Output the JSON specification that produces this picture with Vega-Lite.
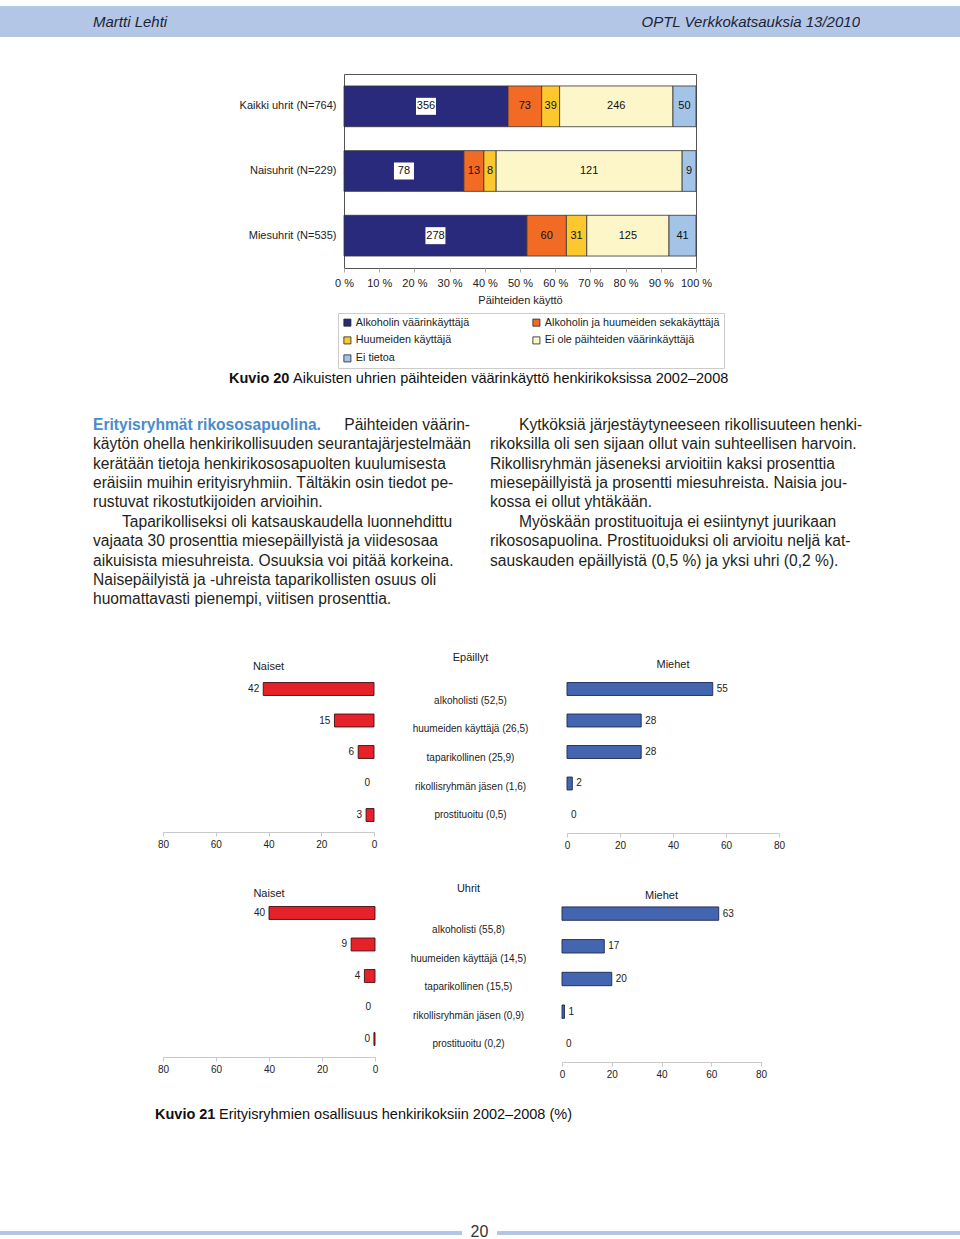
{
  "$schema": "https://vega.github.io/schema/vega-lite/v6.json",
  "padding": 0,
  "background": "white",
  "spacing": 0,
  "bounds": "flush",
  "config": {
    "view": {"stroke": null},
    "font": "Liberation Sans",
    "text": {"font": "Liberation Sans"},
    "axis": {"labelFont": "Liberation Sans", "titleFont": "Liberation Sans", "labelColor": "#222", "titleColor": "#222"},
    "legend": {"labelFont": "Liberation Sans", "labelColor": "#222"},
    "title": {"font": "Liberation Sans", "color": "#222", "fontWeight": "normal"}
  },
  "datasets": {
    "header": [
      {"role": "author", "t": "Martti Lehti"},
      {"role": "series", "t": "OPTL Verkkokatsauksia 13/2010"}
    ],
    "paihde": [
      {"group": "Kaikki uhrit (N=764)", "k": 1, "cat": "Alkoholin väärinkäyttäjä", "n": 356},
      {"group": "Kaikki uhrit (N=764)", "k": 2, "cat": "Alkoholin ja huumeiden sekakäyttäjä", "n": 73},
      {"group": "Kaikki uhrit (N=764)", "k": 3, "cat": "Huumeiden käyttäjä", "n": 39},
      {"group": "Kaikki uhrit (N=764)", "k": 4, "cat": "Ei ole päihteiden väärinkäyttäjä", "n": 246},
      {"group": "Kaikki uhrit (N=764)", "k": 5, "cat": "Ei tietoa", "n": 50},
      {"group": "Naisuhrit (N=229)", "k": 1, "cat": "Alkoholin väärinkäyttäjä", "n": 78},
      {"group": "Naisuhrit (N=229)", "k": 2, "cat": "Alkoholin ja huumeiden sekakäyttäjä", "n": 13},
      {"group": "Naisuhrit (N=229)", "k": 3, "cat": "Huumeiden käyttäjä", "n": 8},
      {"group": "Naisuhrit (N=229)", "k": 4, "cat": "Ei ole päihteiden väärinkäyttäjä", "n": 121},
      {"group": "Naisuhrit (N=229)", "k": 5, "cat": "Ei tietoa", "n": 9},
      {"group": "Miesuhrit (N=535)", "k": 1, "cat": "Alkoholin väärinkäyttäjä", "n": 278},
      {"group": "Miesuhrit (N=535)", "k": 2, "cat": "Alkoholin ja huumeiden sekakäyttäjä", "n": 60},
      {"group": "Miesuhrit (N=535)", "k": 3, "cat": "Huumeiden käyttäjä", "n": 31},
      {"group": "Miesuhrit (N=535)", "k": 4, "cat": "Ei ole päihteiden väärinkäyttäjä", "n": 125},
      {"group": "Miesuhrit (N=535)", "k": 5, "cat": "Ei tietoa", "n": 41}
    ],
    "captions": [
      {"fig": "20", "label": "Kuvio 20", "text": "Aikuisten uhrien päihteiden väärinkäyttö henkirikoksissa 2002–2008"},
      {"fig": "21", "label": "Kuvio 21", "text": "Erityisryhmien osallisuus henkirikoksiin 2002–2008 (%)"}
    ],
    "paras": [
      {"col": "vasen", "line": 1, "alku": false, "lead": "Erityisryhmät rikososapuolina.", "text": "Päihteiden väärin-"},
      {"col": "vasen", "line": 2, "alku": false, "text": "käytön ohella henkirikollisuuden seurantajärjestelmään"},
      {"col": "vasen", "line": 3, "alku": false, "text": "kerätään tietoja henkirikososapuolten kuulumisesta"},
      {"col": "vasen", "line": 4, "alku": false, "text": "eräisiin muihin erityisryhmiin. Tältäkin osin tiedot pe-"},
      {"col": "vasen", "line": 5, "alku": false, "text": "rustuvat rikostutkijoiden arvioihin."},
      {"col": "vasen", "line": 6, "alku": true, "text": "Taparikolliseksi oli katsauskaudella luonnehdittu"},
      {"col": "vasen", "line": 7, "alku": false, "text": "vajaata 30 prosenttia miesepäillyistä ja viidesosaa"},
      {"col": "vasen", "line": 8, "alku": false, "text": "aikuisista miesuhreista. Osuuksia voi pitää korkeina."},
      {"col": "vasen", "line": 9, "alku": false, "text": "Naisepäilyistä ja -uhreista taparikollisten osuus oli"},
      {"col": "vasen", "line": 10, "alku": false, "text": "huomattavasti pienempi, viitisen prosenttia."},
      {"col": "oikea", "line": 1, "alku": true, "text": "Kytköksiä järjestäytyneeseen rikollisuuteen henki-"},
      {"col": "oikea", "line": 2, "alku": false, "text": "rikoksilla oli sen sijaan ollut vain suhteellisen harvoin."},
      {"col": "oikea", "line": 3, "alku": false, "text": "Rikollisryhmän jäseneksi arvioitiin kaksi prosenttia"},
      {"col": "oikea", "line": 4, "alku": false, "text": "miesepäillyistä ja prosentti miesuhreista. Naisia jou-"},
      {"col": "oikea", "line": 5, "alku": false, "text": "kossa ei ollut yhtäkään."},
      {"col": "oikea", "line": 6, "alku": true, "text": "Myöskään prostituoituja ei esiintynyt juurikaan"},
      {"col": "oikea", "line": 7, "alku": false, "text": "rikososapuolina. Prostituoiduksi oli arvioitu neljä kat-"},
      {"col": "oikea", "line": 8, "alku": false, "text": "sauskauden epäillyistä (0,5 %) ja yksi uhri (0,2 %)."}
    ],
    "erityis": [
      {"ryhma": "Epäillyt", "sukupuoli": "Naiset", "k": 1, "luokka": "alkoholisti", "v": 42},
      {"ryhma": "Epäillyt", "sukupuoli": "Naiset", "k": 2, "luokka": "huumeiden käyttäjä", "v": 15},
      {"ryhma": "Epäillyt", "sukupuoli": "Naiset", "k": 3, "luokka": "taparikollinen", "v": 6},
      {"ryhma": "Epäillyt", "sukupuoli": "Naiset", "k": 4, "luokka": "rikollisryhmän jäsen", "v": 0},
      {"ryhma": "Epäillyt", "sukupuoli": "Naiset", "k": 5, "luokka": "prostituoitu", "v": 3},
      {"ryhma": "Epäillyt", "sukupuoli": "Miehet", "k": 1, "luokka": "alkoholisti", "v": 55},
      {"ryhma": "Epäillyt", "sukupuoli": "Miehet", "k": 2, "luokka": "huumeiden käyttäjä", "v": 28},
      {"ryhma": "Epäillyt", "sukupuoli": "Miehet", "k": 3, "luokka": "taparikollinen", "v": 28},
      {"ryhma": "Epäillyt", "sukupuoli": "Miehet", "k": 4, "luokka": "rikollisryhmän jäsen", "v": 2},
      {"ryhma": "Epäillyt", "sukupuoli": "Miehet", "k": 5, "luokka": "prostituoitu", "v": 0},
      {"ryhma": "Uhrit", "sukupuoli": "Naiset", "k": 1, "luokka": "alkoholisti", "v": 40},
      {"ryhma": "Uhrit", "sukupuoli": "Naiset", "k": 2, "luokka": "huumeiden käyttäjä", "v": 9},
      {"ryhma": "Uhrit", "sukupuoli": "Naiset", "k": 3, "luokka": "taparikollinen", "v": 4},
      {"ryhma": "Uhrit", "sukupuoli": "Naiset", "k": 4, "luokka": "rikollisryhmän jäsen", "v": 0},
      {"ryhma": "Uhrit", "sukupuoli": "Naiset", "k": 5, "luokka": "prostituoitu", "v": 0.4},
      {"ryhma": "Uhrit", "sukupuoli": "Miehet", "k": 1, "luokka": "alkoholisti", "v": 63},
      {"ryhma": "Uhrit", "sukupuoli": "Miehet", "k": 2, "luokka": "huumeiden käyttäjä", "v": 17},
      {"ryhma": "Uhrit", "sukupuoli": "Miehet", "k": 3, "luokka": "taparikollinen", "v": 20},
      {"ryhma": "Uhrit", "sukupuoli": "Miehet", "k": 4, "luokka": "rikollisryhmän jäsen", "v": 1},
      {"ryhma": "Uhrit", "sukupuoli": "Miehet", "k": 5, "luokka": "prostituoitu", "v": 0}
    ],
    "erityis_cats": [
      {"ryhma": "Epäillyt", "k": 1, "label": "alkoholisti (52,5)"},
      {"ryhma": "Epäillyt", "k": 2, "label": "huumeiden käyttäjä (26,5)"},
      {"ryhma": "Epäillyt", "k": 3, "label": "taparikollinen (25,9)"},
      {"ryhma": "Epäillyt", "k": 4, "label": "rikollisryhmän jäsen (1,6)"},
      {"ryhma": "Epäillyt", "k": 5, "label": "prostituoitu (0,5)"},
      {"ryhma": "Uhrit", "k": 1, "label": "alkoholisti (55,8)"},
      {"ryhma": "Uhrit", "k": 2, "label": "huumeiden käyttäjä (14,5)"},
      {"ryhma": "Uhrit", "k": 3, "label": "taparikollinen (15,5)"},
      {"ryhma": "Uhrit", "k": 4, "label": "rikollisryhmän jäsen (0,9)"},
      {"ryhma": "Uhrit", "k": 5, "label": "prostituoitu (0,2)"}
    ],
    "footer": [{"page": "20"}]
  },
  "vconcat": [
    {"width": 960, "height": 6, "data": {"values": []}, "mark": "point"},
    {
      "hconcat": [
        {"width": 93, "height": 31, "view": {"fill": "#b3c6e6"}, "data": {"values": []}, "mark": "point"},
        {
          "width": 767, "height": 31, "view": {"fill": "#b3c6e6"},
          "data": {"name": "header"},
          "layer": [
            {"transform": [{"filter": "datum.role == 'author'"}],
             "mark": {"type": "text", "align": "left", "fontSize": 15, "fontStyle": "italic", "color": "#1c2438"},
             "encoding": {"x": {"datum": 0, "type": "quantitative", "scale": {"domain": [0, 1], "nice": false}, "axis": null}, "text": {"field": "t"}}},
            {"transform": [{"filter": "datum.role == 'series'"}],
             "mark": {"type": "text", "align": "right", "fontSize": 15, "fontStyle": "italic", "color": "#1c2438"},
             "encoding": {"x": {"datum": 1, "type": "quantitative", "scale": {"domain": [0, 1], "nice": false}, "axis": null}, "text": {"field": "t"}}}
          ]
        },
        {"width": 100, "height": 31, "view": {"fill": "#b3c6e6"}, "data": {"values": []}, "mark": "point"}
      ],
      "spacing": 0, "bounds": "flush"
    },
    {"width": 960, "height": 68, "data": {"values": []}, "mark": "point"},
    {
      "hconcat": [
        {"width": 344, "height": 194, "data": {"values": []}, "mark": "point"},
        {
          "width": 352, "height": 194,
          "view": {"stroke": "#555", "strokeWidth": 1},
          "data": {"name": "paihde"},
          "transform": [{"stack": "n", "groupby": ["group"], "sort": [{"field": "k"}], "offset": "normalize", "as": ["s0", "s1"]}],
          "encoding": {
            "y": {"field": "group", "type": "nominal", "sort": ["Kaikki uhrit (N=764)", "Naisuhrit (N=229)", "Miesuhrit (N=535)"],
                  "scale": {"paddingInner": 0.37, "paddingOuter": 0.185},
                  "axis": {"title": null, "ticks": false, "domain": false, "labelFontSize": 11, "labelPadding": 8}}
          },
          "layer": [
            {
              "mark": {"type": "bar", "stroke": "#333", "strokeWidth": 0.8},
              "encoding": {
                "x": {"field": "s0", "type": "quantitative", "scale": {"domain": [0, 1], "nice": false},
                      "axis": {"title": "Päihteiden käyttö", "titleFontSize": 11, "titleFontWeight": "normal", "titlePadding": 6, "values": [0, 0.1, 0.2, 0.3, 0.4, 0.5, 0.6, 0.7, 0.8, 0.9, 1], "labelExpr": "round(datum.value*100) + ' %'", "labelFontSize": 11, "labelFlush": false, "labelOverlap": false, "labelBound": false, "grid": false, "domain": false, "tickColor": "#aaa", "tickSize": 4, "labelPadding": 5}},
                "x2": {"field": "s1"},
                "color": {"field": "cat", "type": "nominal",
                          "scale": {"domain": ["Alkoholin väärinkäyttäjä", "Huumeiden käyttäjä", "Ei tietoa", "Alkoholin ja huumeiden sekakäyttäjä", "Ei ole päihteiden väärinkäyttäjä"],
                                    "range": ["#2a2a7c", "#fdc82e", "#a3c4e6", "#f26b25", "#fdf6c9"]},
                          "legend": {"title": null, "orient": "none", "legendX": 338, "legendY": 313, "columns": 2, "gridAlign": "all", "columnPadding": 0, "rowPadding": 6, "symbolType": "square", "symbolSize": 50, "symbolStrokeColor": "#222", "symbolStrokeWidth": 0.8, "labelFontSize": 10.8, "labelOffset": 3, "strokeColor": "#ccc", "padding": 4, "labelLimit": 300, "direction": "vertical"}}
              }
            },
            {
              "transform": [
                {"fold": ["s0", "s1"], "as": ["edge", "pos"]},
                {"aggregate": [{"op": "mean", "field": "pos", "as": "mid"}], "groupby": ["group", "cat", "k", "n"]}
              ],
              "layer": [
                {"transform": [{"filter": "datum.k == 1"}],
                 "mark": {"type": "point", "shape": "M-1,-0.85H1V0.85H-1Z", "filled": true, "color": "white", "size": 400, "opacity": 1, "strokeWidth": 0},
                 "encoding": {"x": {"field": "mid", "type": "quantitative",
                   "axis": {"title": "Päihteiden käyttö", "titleFontSize": 11, "titleFontWeight": "normal", "titlePadding": 6, "values": [0, 0.1, 0.2, 0.3, 0.4, 0.5, 0.6, 0.7, 0.8, 0.9, 1], "labelExpr": "round(datum.value*100) + ' %'", "labelFontSize": 11, "labelFlush": false, "labelOverlap": false, "labelBound": false, "grid": false, "domain": false, "tickColor": "#aaa", "tickSize": 4, "labelPadding": 5}}}},
                {"mark": {"type": "text", "fontSize": 11, "color": "#111"},
                 "encoding": {"x": {"field": "mid", "type": "quantitative",
                   "axis": {"title": "Päihteiden käyttö", "titleFontSize": 11, "titleFontWeight": "normal", "titlePadding": 6, "values": [0, 0.1, 0.2, 0.3, 0.4, 0.5, 0.6, 0.7, 0.8, 0.9, 1], "labelExpr": "round(datum.value*100) + ' %'", "labelFontSize": 11, "labelFlush": false, "labelOverlap": false, "labelBound": false, "grid": false, "domain": false, "tickColor": "#aaa", "tickSize": 4, "labelPadding": 5}},
                   "text": {"field": "n"}}}
              ]
            }
          ]
        }
      ],
      "spacing": 0, "bounds": "flush"
    },
    {"width": 960, "height": 296, "data": {"values": []}, "mark": "point"},
    {
      "hconcat": [
        {"width": 229, "height": 18, "data": {"values": []}, "mark": "point"},
        {
          "width": 520, "height": 18,
          "data": {"name": "captions"},
          "transform": [{"filter": "datum.fig == '20'"}],
          "encoding": {"x": {"datum": 0, "type": "quantitative", "scale": {"domain": [0, 1], "nice": false}, "axis": null}},
          "layer": [
            {"mark": {"type": "text", "align": "left", "fontSize": 14.5, "fontWeight": "bold", "color": "#111"}, "encoding": {"text": {"field": "label"}}},
            {"mark": {"type": "text", "align": "left", "fontSize": 14.5, "dx": 64, "color": "#111"}, "encoding": {"text": {"field": "text"}}}
          ]
        }
      ],
      "spacing": 0, "bounds": "flush"
    },
    {"width": 960, "height": 45, "data": {"values": []}, "mark": "point"},
    {
      "hconcat": [
        {"width": 93, "height": 194, "data": {"values": []}, "mark": "point"},
        {
          "width": 377, "height": 194,
          "data": {"name": "paras"},
          "transform": [{"filter": "datum.col == 'vasen'"}],
          "encoding": {
            "x": {"datum": 0, "type": "quantitative", "scale": {"domain": [0, 1], "nice": false}, "axis": null},
            "y": {"field": "line", "type": "quantitative", "scale": {"domain": [0.5, 10.5], "reverse": true, "nice": false, "zero": false}, "axis": null}
          },
          "layer": [
            {"transform": [{"filter": "datum.line > 1 && !datum.alku"}], "mark": {"type": "text", "align": "left", "fontSize": 15.6, "color": "#231f20"}, "encoding": {"text": {"field": "text"}}},
            {"transform": [{"filter": "datum.alku"}], "mark": {"type": "text", "align": "left", "dx": 29, "fontSize": 15.6, "color": "#231f20"}, "encoding": {"text": {"field": "text"}}},
            {"transform": [{"filter": "datum.line == 1"}], "mark": {"type": "text", "align": "left", "fontSize": 15.6, "fontWeight": "bold", "color": "#4a8ccb"}, "encoding": {"text": {"field": "lead"}}},
            {"transform": [{"filter": "datum.line == 1"}], "mark": {"type": "text", "align": "right", "fontSize": 15.6, "color": "#231f20"}, "encoding": {"x": {"datum": 1, "type": "quantitative"}, "text": {"field": "text"}}}
          ]
        },
        {"width": 20, "height": 194, "data": {"values": []}, "mark": "point"},
        {
          "width": 377, "height": 194,
          "data": {"name": "paras"},
          "transform": [{"filter": "datum.col == 'oikea'"}],
          "encoding": {
            "x": {"datum": 0, "type": "quantitative", "scale": {"domain": [0, 1], "nice": false}, "axis": null},
            "y": {"field": "line", "type": "quantitative", "scale": {"domain": [0.5, 10.5], "reverse": true, "nice": false, "zero": false}, "axis": null},
            "text": {"field": "text"}
          },
          "layer": [
            {"transform": [{"filter": "!datum.alku"}], "mark": {"type": "text", "align": "left", "fontSize": 15.6, "color": "#231f20"}},
            {"transform": [{"filter": "datum.alku"}], "mark": {"type": "text", "align": "left", "dx": 29, "fontSize": 15.6, "color": "#231f20"}}
          ]
        }
      ],
      "spacing": 0, "bounds": "flush"
    },
    {"width": 960, "height": 258, "data": {"values": []}, "mark": "point"},
    {
      "hconcat": [
        {"width": 163, "height": 158, "data": {"values": []}, "mark": "point"},
        {
          "width": 211, "height": 158,
          "title": {"text": "Naiset", "fontSize": 11, "fontWeight": "normal", "anchor": "middle", "offset": 1},
          "data": {"name": "erityis"},
          "transform": [{"filter": "datum.ryhma == 'Epäillyt' && datum.sukupuoli == 'Naiset'"}],
          "encoding": {
            "y": {"field": "k", "type": "ordinal", "scale": {"domain": [1, 2, 3, 4, 5], "paddingInner": 0.59, "paddingOuter": 0.303}, "axis": null},
            "x": {"field": "v", "type": "quantitative", "scale": {"domain": [0, 80], "reverse": true, "nice": false},
                  "axis": {"values": [0, 20, 40, 60, 80], "title": null, "grid": false, "domainColor": "#c8c8c8", "tickColor": "#c8c8c8", "tickSize": 4, "labelFontSize": 10, "labelPadding": 3, "offset": 1, "labelFlush": false}}
          },
          "layer": [
            {"transform": [{"filter": "datum.v > 0"}], "mark": {"type": "bar", "color": "#e62129", "stroke": "#3b1214", "strokeWidth": 0.9}, "encoding": {}},
            {"mark": {"type": "text", "align": "right", "dx": -4, "fontSize": 10, "color": "#222"}, "encoding": {"text": {"field": "v", "format": ".0f"}}}
          ]
        },
        {
          "width": 193, "height": 158,
          "title": {"text": "Epäillyt", "fontSize": 11, "fontWeight": "normal", "anchor": "middle", "offset": 10},
          "data": {"name": "erityis_cats"},
          "transform": [{"filter": "datum.ryhma == 'Epäillyt'"}],
          "mark": {"type": "text", "fontSize": 10, "color": "#222"},
          "encoding": {
            "y": {"field": "k", "type": "quantitative", "scale": {"domain": [0.02, 5.56], "reverse": true, "nice": false, "zero": false}, "axis": null},
            "text": {"field": "label"}
          }
        },
        {
          "width": 212, "height": 158,
          "title": {"text": "Miehet", "fontSize": 11, "fontWeight": "normal", "anchor": "middle", "offset": 3},
          "data": {"name": "erityis"},
          "transform": [{"filter": "datum.ryhma == 'Epäillyt' && datum.sukupuoli == 'Miehet'"}],
          "encoding": {
            "y": {"field": "k", "type": "ordinal", "scale": {"domain": [1, 2, 3, 4, 5], "paddingInner": 0.59, "paddingOuter": 0.303}, "axis": null},
            "x": {"field": "v", "type": "quantitative", "scale": {"domain": [0, 80], "nice": false},
                  "axis": {"values": [0, 20, 40, 60, 80], "title": null, "grid": false, "domainColor": "#c8c8c8", "tickColor": "#c8c8c8", "tickSize": 4, "labelFontSize": 10, "labelPadding": 3, "offset": 2, "labelFlush": false}}
          },
          "layer": [
            {"transform": [{"filter": "datum.v > 0"}], "mark": {"type": "bar", "color": "#4466b0", "stroke": "#1b2750", "strokeWidth": 0.9}, "encoding": {}},
            {"mark": {"type": "text", "align": "left", "dx": 4, "fontSize": 10, "color": "#222"}, "encoding": {"text": {"field": "v", "format": ".0f"}}}
          ]
        }
      ],
      "spacing": 0, "bounds": "flush"
    },
    {"width": 960, "height": 224, "data": {"values": []}, "mark": "point"},
    {
      "hconcat": [
        {"width": 163, "height": 164, "data": {"values": []}, "mark": "point"},
        {
          "width": 212, "height": 164,
          "title": {"text": "Naiset", "fontSize": 11, "fontWeight": "normal", "anchor": "middle", "offset": -2},
          "data": {"name": "erityis"},
          "transform": [{"filter": "datum.ryhma == 'Uhrit' && datum.sukupuoli == 'Naiset'"}],
          "encoding": {
            "y": {"field": "k", "type": "ordinal", "scale": {"domain": [1, 2, 3, 4, 5], "paddingInner": 0.59, "paddingOuter": 0.398, "align": 0.38}, "axis": null},
            "x": {"field": "v", "type": "quantitative", "scale": {"domain": [0, 80], "reverse": true, "nice": false},
                  "axis": {"values": [0, 20, 40, 60, 80], "title": null, "grid": false, "domainColor": "#c8c8c8", "tickColor": "#c8c8c8", "tickSize": 4, "labelFontSize": 10, "labelPadding": 3, "offset": -4, "labelFlush": false}}
          },
          "layer": [
            {"transform": [{"filter": "datum.v > 0"}], "mark": {"type": "bar", "color": "#e62129", "stroke": "#3b1214", "strokeWidth": 0.9}, "encoding": {}},
            {"mark": {"type": "text", "align": "right", "dx": -4, "fontSize": 10, "color": "#222"}, "encoding": {"text": {"field": "v", "format": ".0f"}}}
          ]
        },
        {
          "width": 187, "height": 164,
          "title": {"text": "Uhrit", "fontSize": 11, "fontWeight": "normal", "anchor": "middle", "offset": 3},
          "data": {"name": "erityis_cats"},
          "transform": [{"filter": "datum.ryhma == 'Uhrit'"}],
          "mark": {"type": "text", "fontSize": 10, "color": "#222"},
          "encoding": {
            "y": {"field": "k", "type": "quantitative", "scale": {"domain": [-0.158, 5.596], "reverse": true, "nice": false, "zero": false}, "axis": null},
            "text": {"field": "label"}
          }
        },
        {
          "width": 199, "height": 164,
          "title": {"text": "Miehet", "fontSize": 11, "fontWeight": "normal", "anchor": "middle", "offset": -4},
          "data": {"name": "erityis"},
          "transform": [{"filter": "datum.ryhma == 'Uhrit' && datum.sukupuoli == 'Miehet'"}],
          "encoding": {
            "y": {"field": "k", "type": "ordinal", "scale": {"domain": [1, 2, 3, 4, 5], "paddingInner": 0.59, "paddingOuter": 0.303}, "axis": null},
            "x": {"field": "v", "type": "quantitative", "scale": {"domain": [0, 80], "nice": false},
                  "axis": {"values": [0, 20, 40, 60, 80], "title": null, "grid": false, "domainColor": "#c8c8c8", "tickColor": "#c8c8c8", "tickSize": 4, "labelFontSize": 10, "labelPadding": 3, "offset": 1, "labelFlush": false}}
          },
          "layer": [
            {"transform": [{"filter": "datum.v > 0"}], "mark": {"type": "bar", "color": "#4466b0", "stroke": "#1b2750", "strokeWidth": 0.9}, "encoding": {}},
            {"mark": {"type": "text", "align": "left", "dx": 4, "fontSize": 10, "color": "#222"}, "encoding": {"text": {"field": "v", "format": ".0f"}}}
          ]
        }
      ],
      "spacing": 0, "bounds": "flush"
    },
    {"width": 960, "height": 209, "data": {"values": []}, "mark": "point"},
    {
      "hconcat": [
        {"width": 155, "height": 18, "data": {"values": []}, "mark": "point"},
        {
          "width": 420, "height": 18,
          "data": {"name": "captions"},
          "transform": [{"filter": "datum.fig == '21'"}],
          "encoding": {"x": {"datum": 0, "type": "quantitative", "scale": {"domain": [0, 1], "nice": false}, "axis": null}},
          "layer": [
            {"mark": {"type": "text", "align": "left", "fontSize": 14.5, "fontWeight": "bold", "color": "#111"}, "encoding": {"text": {"field": "label"}}},
            {"mark": {"type": "text", "align": "left", "fontSize": 14.5, "dx": 64, "color": "#111"}, "encoding": {"text": {"field": "text"}}}
          ]
        }
      ],
      "spacing": 0, "bounds": "flush"
    },
    {"width": 960, "height": 125, "data": {"values": []}, "mark": "point"},
    {
      "hconcat": [
        {"width": 462, "height": 4, "view": {"fill": "#b3c6e6"}, "data": {"values": []}, "mark": "point"},
        {"width": 35, "height": 4, "data": {"name": "footer"}, "mark": {"type": "text", "fontSize": 16, "dy": -1, "color": "#333"}, "encoding": {"text": {"field": "page"}}},
        {"width": 463, "height": 4, "view": {"fill": "#b3c6e6"}, "data": {"values": []}, "mark": "point"}
      ],
      "spacing": 0, "bounds": "flush"
    },
    {"width": 960, "height": 8, "data": {"values": []}, "mark": "point"}
  ]
}
